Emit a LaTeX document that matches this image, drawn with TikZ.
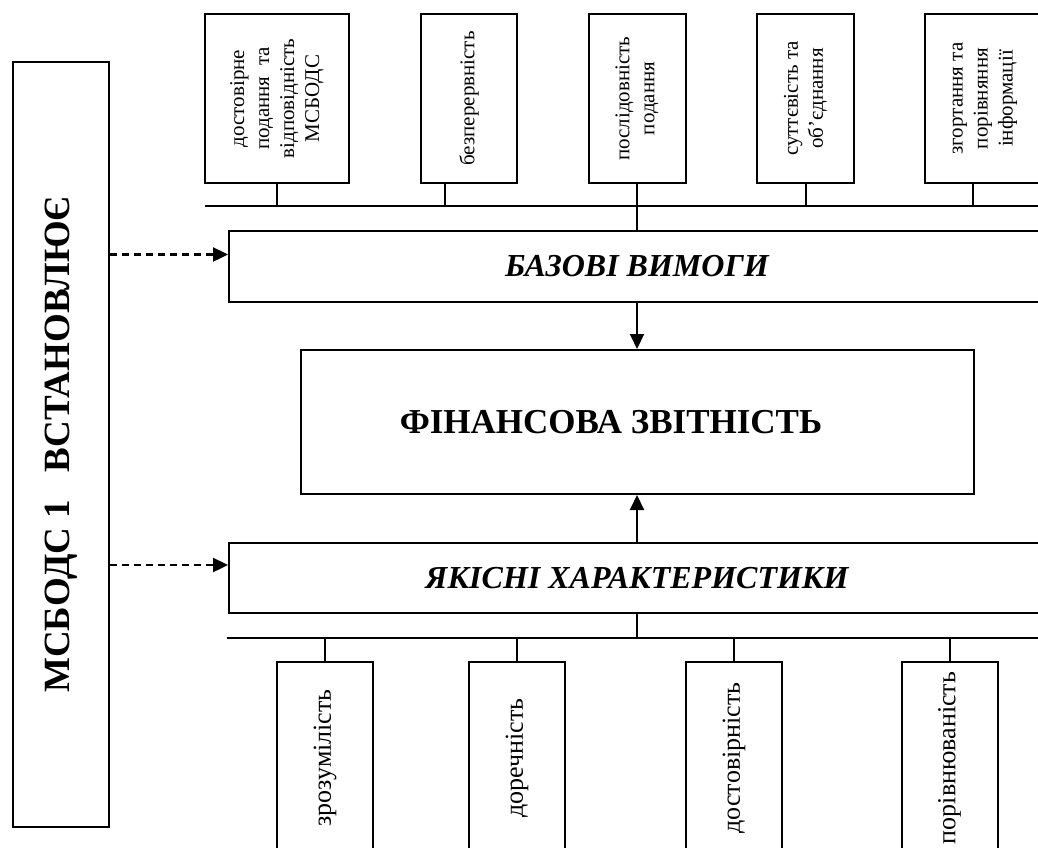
\documentclass[tikz,border=0pt]{standalone}
\usepackage{fontspec}
\setmainfont{Liberation Serif}
\usetikzlibrary{arrows.meta}
\begin{document}
\begin{tikzpicture}[x=1pt,y=-1pt,line width=2pt,
  box/.style={draw,rectangle,inner sep=0pt,align=center},
  topbox/.style={box,rotate=90,minimum width=169pt,font=\fontsize{21}{25}\selectfont},
  botbox/.style={box,rotate=90,minimum width=192pt,minimum height=96pt,font=\fontsize{26}{30}\selectfont},
  hbox/.style={box,font=\fontsize{32}{36}\selectfont\bfseries\itshape},
  solidarrow/.style={-{Triangle[length=15pt,width=14pt]}},
  dasharrow/.style={-{Triangle[length=15pt,width=14pt]},line width=2.4pt,dash pattern=on 7pt off 5pt}]
\clip (0,0) rectangle (1038,848);
% left box
\node[box,rotate=90,minimum width=765pt,minimum height=96pt,font=\fontsize{37}{40}\selectfont\bfseries] (lb) at (61,444.5) {МСБОДС 1\ \ \ ВСТАНОВЛЮЄ};
% top boxes
\node[topbox,minimum height=144pt] (t1) at (277,98.5) {достовірне\\подання\ \ та\\відповідність\\МСБОДС};
\node[topbox,minimum height=96pt] (t2) at (469,98.5) {безперервність};
\node[topbox,minimum height=97pt] (t3) at (637,98.5) {послідовність\\подання};
\node[topbox,minimum height=97pt] (t4) at (805.5,98.5) {суттєвість та\\об’єднання};
\node[topbox,minimum height=120pt] (t5) at (985,98.5) {згортання та\\порівняння\\інформації};
% main boxes
\node[hbox,minimum width=816pt,minimum height=71pt] (base) at (637,266.5) {БАЗОВІ ВИМОГИ};
\node[box,minimum width=673pt,minimum height=144pt,font=\fontsize{35}{40}\selectfont\bfseries] (fin) at (637,422) {ФІНАНСОВА ЗВІТНІСТЬ\hspace*{52pt}};
\node[hbox,minimum width=816pt,minimum height=70pt] (yak) at (637,578) {ЯКІСНІ ХАРАКТЕРИСТИКИ};
% bottom boxes
\node[botbox] (b1) at (325,758) {зрозумілість};
\node[botbox] (b2) at (517,758) {доречність};
\node[botbox] (b3) at (734,758) {достовірність};
\node[botbox] (b4) at (949.5,758) {порівнюваність};
% buses
\coordinate (bus1L) at (205,206);
\coordinate (bus1R) at (1045,206);
\coordinate (bus2L) at (227,637.5);
\coordinate (bus2R) at (1045,637.5);
\draw (bus1L) -- (bus1R);
\draw (bus2L) -- (bus2R);
\coordinate (s2) at (445,183);
\coordinate (s5) at (973,183);
\draw (t1.west) -- (t1.west |- bus1L);
\draw (s2) -- (s2 |- bus1L);
\draw (t3.west) -- (base.north);
\draw (t4.west) -- (t4.west |- bus1L);
\draw (s5) -- (s5 |- bus1L);
\draw (yak.south) -- (yak.south |- bus2L);
\foreach \b in {b1,b2,b3,b4} \draw (\b.east |- bus2L) -- (\b.east);
% arrows
\draw[solidarrow] (base.south) -- (fin.north);
\draw[solidarrow] (yak.north) -- (fin.south);
\coordinate (a1) at ([yshift=12pt]base.west);
\coordinate (a2) at ([yshift=13pt]yak.west);
\draw[dasharrow] (lb.south |- a1) -- (a1);
\draw[dasharrow] (lb.south |- a2) -- (a2);
\end{tikzpicture}
\end{document}
